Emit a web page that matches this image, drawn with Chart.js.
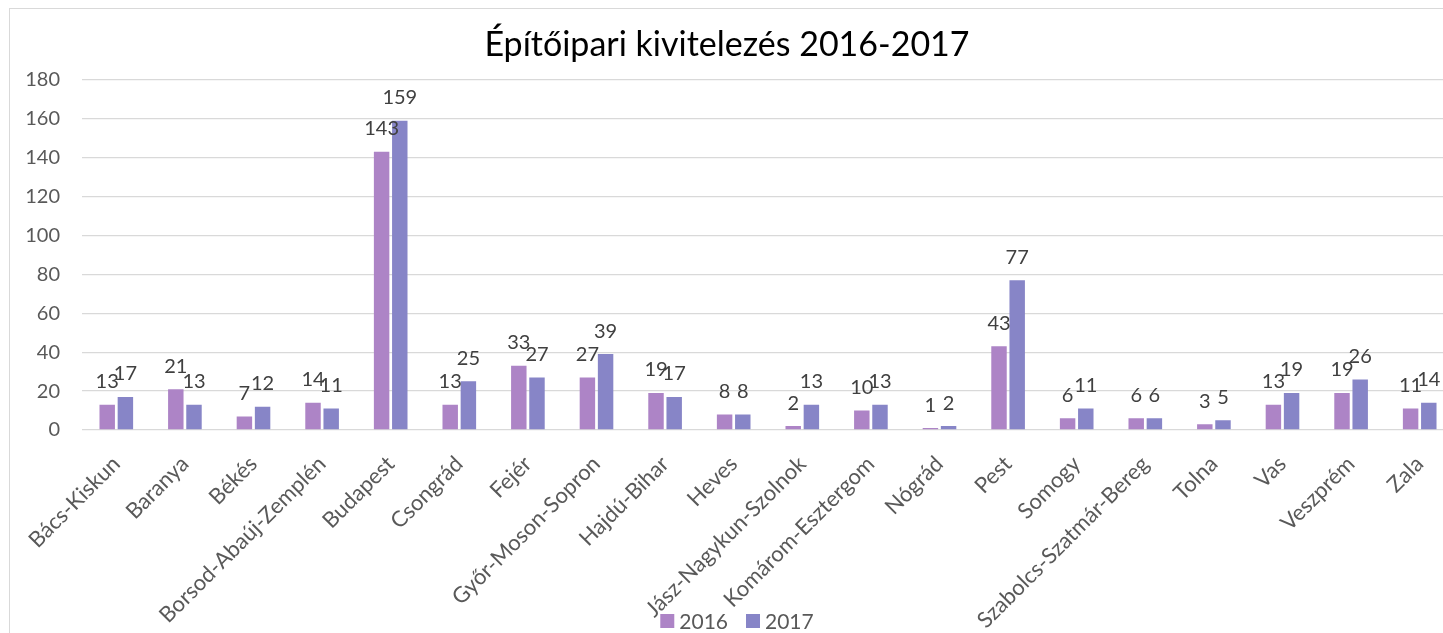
<!DOCTYPE html>
<html>
<head>
<meta charset="utf-8">
<script src="https://cdn.jsdelivr.net/npm/chart.js@4"></script>
<style>
  html, body { margin: 0; padding: 0; background: #fff; overflow: hidden; }
  #wrap { position: relative; width: 1443px; height: 633px; overflow: hidden; }
  #frame { position: absolute; left: 9px; top: 8px; width: 1500px; height: 700px; border: 1px solid #d9d9d9; box-sizing: border-box; }
  #holder { position: absolute; left: 0; top: 0; width: 1470px; height: 633px; }
</style>
</head>
<body>
<div id="wrap">
  <div id="frame"></div>
  <div id="holder"><canvas id="chart"></canvas></div>
</div>
<script>
var megyek = ['Bács-Kiskun', 'Baranya', 'Békés', 'Borsod-Abaúj-Zemplén', 'Budapest', 'Csongrád',
  'Fejér', 'Győr-Moson-Sopron', 'Hajdú-Bihar', 'Heves', 'Jász-Nagykun-Szolnok', 'Komárom-Esztergom',
  'Nógrád', 'Pest', 'Somogy', 'Szabolcs-Szatmár-Bereg', 'Tolna', 'Vas', 'Veszprém', 'Zala'];
var ev2016 = [13, 21, 7, 14, 143, 13, 33, 27, 19, 8, 2, 10, 1, 43, 6, 6, 3, 13, 19, 11];
var ev2017 = [17, 13, 12, 11, 159, 25, 27, 39, 17, 8, 13, 13, 2, 77, 11, 6, 5, 19, 26, 14];
var yTicks = [0, 20, 40, 60, 80, 100, 120, 140, 160, 180];

var font = 'Lato, "Open Sans", sans-serif';

// values above the bars
var valueLabels = {
  id: 'valueLabels',
  afterDatasetsDraw: function(chart) {
    var ctx = chart.ctx;
    ctx.save();
    ctx.font = '20px ' + font;
    ctx.fillStyle = '#404040';
    ctx.textAlign = 'center';
    ctx.textBaseline = 'bottom';
    chart.data.datasets.forEach(function(ds, i) {
      chart.getDatasetMeta(i).data.forEach(function(bar, j) {
        ctx.fillText(ds.data[j], bar.x, bar.y - 13);
      });
    });
    ctx.restore();
  }
};

// legend drawn over the bottom of the axis labels, like the original
var bottomLegend = {
  id: 'bottomLegend',
  afterDraw: function(chart) {
    var ctx = chart.ctx;
    var box = 14, gap = 5, spacing = 18, y = 621;
    ctx.save();
    ctx.font = '21px ' + font;
    ctx.textBaseline = 'middle';
    var items = chart.data.datasets.map(function(ds) {
      return { text: ds.label, color: ds.backgroundColor, w: box + gap + ctx.measureText(ds.label).width };
    });
    var total = items.reduce(function(s, it) { return s + it.w; }, 0) + spacing * (items.length - 1);
    var x = 737 - total / 2;
    items.forEach(function(it) {
      ctx.fillStyle = it.color;
      ctx.fillRect(x, y - box / 2, box, box);
      ctx.fillStyle = '#595959';
      ctx.fillText(it.text, x + box + gap, y + 1);
      x += it.w + spacing;
    });
    ctx.restore();
  }
};

var ctx = document.getElementById('chart').getContext('2d');
var chart = new Chart(ctx, {
  type: 'bar',
  data: {
    labels: megyek,
    datasets: [
      { label: '2016', data: ev2016, backgroundColor: '#ad84c6' },
      { label: '2017', data: ev2017, backgroundColor: '#8785c7' }
    ]
  },
  options: {
    responsive: true,
    maintainAspectRatio: false,
    animation: false,
    datasets: { bar: { categoryPercentage: 0.53, barPercentage: 0.85 } },
    layout: { padding: { left: 0, right: 16, top: 0, bottom: 0 } },
    plugins: {
      title: {
        display: true,
        text: 'Építőipari kivitelezés 2016-2017',
        color: '#000',
        font: { family: font, size: 34, weight: 'normal' },
        padding: { top: 25, bottom: 14 }
      },
      legend: { display: false },
      tooltip: { enabled: false }
    },
    scales: {
      x: {
        grid: { display: false },
        border: { display: false },
        ticks: {
          color: '#595959',
          font: { family: font, size: 22 },
          minRotation: 45,
          maxRotation: 45,
          autoSkip: false,
          padding: 13
        },
        afterFit: function(scale) { scale.height = 203; }
      },
      y: {
        min: 0,
        max: 180,
        afterBuildTicks: function(scale) {
          scale.ticks = yTicks.map(function(v) { return { value: v }; });
        },
        grid: { color: '#d9d9d9', lineWidth: 1.3, drawTicks: false },
        border: { display: false },
        ticks: {
          color: '#595959',
          font: { family: font, size: 20 },
          padding: 22
        },
        afterFit: function(scale) { scale.width = 82; }
      }
    }
  },
  plugins: [valueLabels, bottomLegend]
});
</script>
</body>
</html>
